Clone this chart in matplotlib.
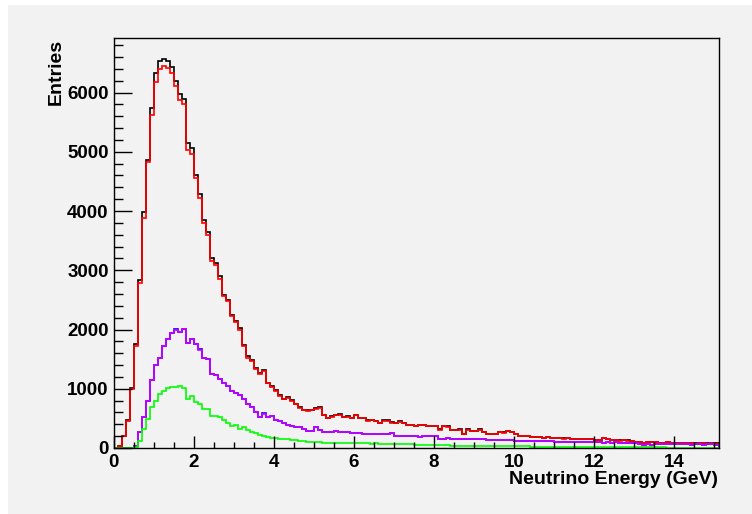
import numpy as np
import matplotlib
matplotlib.use("Agg")
import matplotlib.pyplot as plt
from matplotlib.ticker import MultipleLocator
from matplotlib.patches import Rectangle

# ---- data (bin width 0.1 GeV, 0 .. 15.1 GeV) ----
bin_edges = np.round(np.arange(0, 15.1001, 0.1), 3)

total = [
    0, 30, 205, 470, 1020, 1760, 2830, 3980, 4860, 5740,
    6325, 6540, 6565, 6540, 6435, 6200, 5980, 5890, 5140, 5070,
    4600, 4280, 3850, 3650, 3200, 3120, 2900, 2590, 2500, 2250,
    2150, 2020, 1740, 1545, 1485, 1345, 1260, 1315, 1100, 1045,
    975, 890, 835, 860, 810, 748, 688, 648, 637, 642,
    667, 687, 562, 506, 536, 561, 566, 531, 534, 511,
    561, 505, 505, 465, 470, 460, 425, 465, 465, 435,
    424, 449, 419, 389, 389, 369, 389, 384, 369, 374,
    369, 314, 369, 364, 308, 303, 313, 238, 313, 293,
    293, 313, 268, 243, 238, 243, 268, 263, 293, 268,
    238, 207, 202, 197, 182, 187, 182, 177, 182, 172,
    167, 172, 162, 167, 157, 152, 152, 147, 157, 152,
    142, 137, 167, 147, 142, 142, 127, 132, 127, 122,
    97, 97, 92, 102, 107, 97, 92, 92, 97, 87,
    82, 87, 82, 92, 82, 77, 82, 87, 77, 82,
    77,
]

cc = [
    0, 30, 200, 460, 1000, 1730, 2790, 3890, 4830, 5625,
    6170, 6400, 6450, 6415, 6325, 6115, 5875, 5800, 5025, 4960,
    4550, 4225, 3790, 3600, 3150, 3090, 2850, 2560, 2475, 2225,
    2130, 2000, 1720, 1525, 1470, 1330, 1245, 1300, 1090, 1035,
    965, 880, 825, 850, 800, 740, 680, 640, 630, 635,
    660, 680, 555, 500, 530, 555, 560, 525, 528, 505,
    555, 500, 500, 460, 465, 455, 420, 460, 460, 430,
    420, 445, 415, 385, 385, 365, 385, 380, 365, 370,
    365, 310, 365, 360, 305, 300, 310, 235, 310, 290,
    290, 310, 265, 240, 235, 240, 265, 260, 290, 265,
    235, 205, 200, 195, 180, 185, 180, 175, 180, 170,
    165, 170, 160, 165, 155, 150, 150, 145, 155, 150,
    140, 135, 165, 145, 140, 140, 125, 130, 125, 120,
    95, 95, 90, 100, 105, 95, 90, 90, 95, 85,
    80, 85, 80, 90, 80, 75, 80, 85, 75, 80,
    75,
]

blue_series = [
    0, 0, 0, 0, 0, 40, 265, 515, 795, 1150,
    1395, 1525, 1720, 1845, 1945, 2005, 1960, 2010, 1775, 1845,
    1750, 1665, 1525, 1495, 1245, 1225, 1160, 1105, 1050, 965,
    925, 890, 825, 740, 685, 610, 530, 585, 515, 545,
    475, 460, 415, 385, 375, 350, 360, 320, 290, 290,
    350, 300, 265, 275, 270, 280, 275, 270, 265, 260,
    250, 250, 240, 235, 235, 230, 240, 240, 235, 245,
    205, 210, 200, 205, 200, 195, 190, 195, 200, 195,
    205, 150, 155, 163, 150, 145, 150, 150, 155, 155,
    150, 160, 150, 140, 135, 135, 130, 135, 140, 135,
    125, 125, 120, 125, 120, 115, 115, 110, 115, 110,
    105, 105, 100, 105, 100, 105, 100, 100, 95, 100,
    95, 95, 90, 95, 90, 95, 90, 85, 90, 85,
    80, 60, 55, 60, 55, 65, 60, 65, 60, 65,
    65, 60, 65, 60, 55, 60, 60, 55, 60, 60,
    55,
]

magenta_series = [
    0, 0, 0, 0, 0, 40, 265, 515, 795, 1150,
    1395, 1525, 1720, 1845, 1945, 1990, 1960, 2010, 1775, 1845,
    1750, 1650, 1525, 1495, 1245, 1225, 1160, 1105, 1050, 965,
    925, 890, 825, 740, 685, 610, 530, 570, 515, 545,
    475, 460, 415, 385, 375, 350, 360, 320, 290, 290,
    350, 300, 265, 275, 270, 280, 275, 270, 265, 260,
    250, 250, 240, 235, 235, 230, 240, 240, 235, 245,
    205, 210, 200, 205, 200, 195, 190, 195, 200, 195,
    205, 150, 155, 163, 150, 145, 150, 150, 155, 155,
    150, 160, 150, 140, 135, 135, 130, 135, 140, 135,
    125, 125, 120, 125, 120, 115, 115, 110, 115, 110,
    105, 105, 100, 105, 100, 105, 100, 100, 95, 100,
    95, 95, 90, 95, 90, 95, 90, 85, 90, 85,
    80, 60, 55, 60, 55, 65, 60, 65, 60, 65,
    65, 60, 65, 60, 55, 60, 60, 55, 60, 60,
    55,
]

green_series = [
    0, 0, 0, 0, 0, 20, 120, 320, 490, 700,
    795, 905, 965, 1010, 1030, 1030, 1045, 1020, 825, 870,
    780, 740, 665, 655, 545, 535, 515, 475, 430, 365,
    385, 320, 350, 310, 275, 250, 220, 195, 190, 175,
    170, 160, 150, 150, 140, 130, 120, 110, 105, 105,
    105, 100, 90, 85, 85, 85, 85, 85, 80, 80,
    80, 80, 78, 80, 75, 78, 70, 65, 65, 65,
    65, 62, 65, 60, 62, 55, 52, 50, 50, 50,
    50, 48, 50, 45, 42, 40, 42, 40, 40, 38,
    40, 38, 36, 38, 35, 35, 33, 32, 30, 30,
    28, 27, 26, 26, 25, 24, 24, 23, 22, 22,
    21, 20, 20, 19, 19, 18, 18, 17, 17, 16,
    16, 15, 15, 14, 14, 13, 13, 12, 12, 12,
    11, 11, 10, 10, 10, 9, 9, 9, 8, 8,
    8, 7, 7, 7, 6, 6, 6, 6, 5, 5,
    5,
]

x_ticks = [0, 2, 4, 6, 8, 10, 12, 14]
y_ticks = [0, 1000, 2000, 3000, 4000, 5000, 6000]

# ---- figure ----
W, H = 752, 514
fig = plt.figure(figsize=(W / 100, H / 100), dpi=100)
fig.patch.set_facecolor("white")
bg = "#f2f2f2"
fig.patches.append(Rectangle((8 / W, 0), 1 - 8 / W, 1 - 5 / H,
                             transform=fig.transFigure, facecolor=bg,
                             edgecolor="none", zorder=-10))

ax = fig.add_axes([113.5 / W, (H - 448) / H, 605 / W, 410 / H])
ax.set_facecolor(bg)

lw = 1.2
ax.stairs(total, bin_edges, color="black", lw=lw, baseline=0)
ax.stairs(cc, bin_edges, color="#ff0000", lw=lw, baseline=0)
ax.stairs(blue_series, bin_edges, color="#0000ff", lw=lw, baseline=0)
ax.stairs(magenta_series, bin_edges, color="#cc00ff", lw=lw, baseline=0)
ax.stairs(green_series, bin_edges, color="#00ff00", lw=lw, baseline=0)

ax.set_xlim(0, 15.1)
ax.set_ylim(0, 6920)

ax.set_xticks(x_ticks)
ax.set_yticks(y_ticks)
ax.xaxis.set_minor_locator(MultipleLocator(0.5))
ax.yaxis.set_minor_locator(MultipleLocator(200))

tick_font = dict(family="Liberation Sans", weight="bold", size=13.5)
label_font = dict(family="Liberation Sans", weight="bold", size=14)
ax.set_xticklabels([str(v) for v in x_ticks], **tick_font)
ax.set_yticklabels([str(v) for v in y_ticks], **tick_font)

ax.tick_params(axis="x", which="major", direction="in", length=8.5, width=1,
               pad=4, top=False)
ax.tick_params(axis="x", which="minor", direction="in", length=4.2, width=1,
               top=False)
ax.tick_params(axis="y", which="major", direction="in", length=13, width=1,
               pad=3.5, right=False)
ax.tick_params(axis="y", which="minor", direction="in", length=6.5, width=1,
               right=False)

for s in ax.spines.values():
    s.set_linewidth(1.0)
    s.set_color("black")

fig.text(718 / W, 1 - 480 / H, "Neutrino Energy (GeV)", ha="right",
         va="center", **label_font)
fig.text(56 / W, 1 - 39 / H, "Entries", ha="center", va="top",
         rotation=90, **label_font)

fig.savefig("out.png", dpi=100, facecolor=fig.get_facecolor())
